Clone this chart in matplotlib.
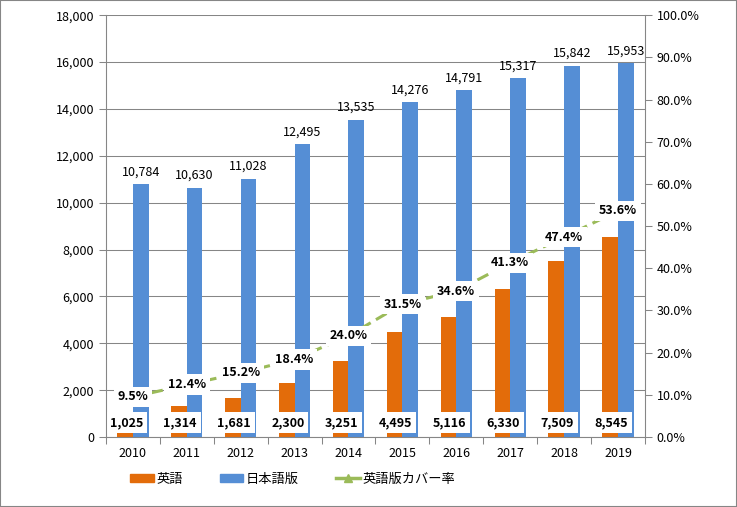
import numpy as np
import matplotlib
matplotlib.use("Agg")
import matplotlib.pyplot as plt
from matplotlib.ticker import FuncFormatter, FixedLocator
from matplotlib.lines import Line2D
from matplotlib.patches import Patch

plt.rcParams['font.family'] = ['Noto Sans CJK JP', 'DejaVu Sans']

years = ["2010", "2011", "2012", "2013", "2014", "2015", "2016", "2017", "2018", "2019"]
eigo = [1025, 1314, 1681, 2300, 3251, 4495, 5116, 6330, 7509, 8545]
nihongo = [10784, 10630, 11028, 12495, 13535, 14276, 14791, 15317, 15842, 15953]
cover = [9.5, 12.4, 15.2, 18.4, 24.0, 31.5, 34.6, 41.3, 47.4, 53.6]

c_or = "#E36C0A"
c_bl = "#558ED5"
c_gr = "#9BBB59"
c_ax = "#868686"

fig = plt.figure(figsize=(7.37, 5.07), dpi=100)
fig.patches.append(plt.Rectangle((0, 0), 1, 1, transform=fig.transFigure,
                                 fill=False, edgecolor=c_ax, linewidth=1.5))
ax = fig.add_axes([0.1438, 0.138, 0.875 - 0.1438, 0.832])
ax2 = ax.twinx()

x = np.arange(len(years))
w = 0.29
ax.bar(x - w / 2, eigo, w, color=c_or, zorder=2)
ax.bar(x + w / 2, nihongo, w, color=c_bl, zorder=2)

ax.set_xlim(-0.5, 9.5)
ax.set_ylim(0, 18000)
ax.set_yticks(np.arange(0, 18001, 2000))
ax.yaxis.set_major_formatter(FuncFormatter(lambda v, p: f"{int(v):,}"))
ax.grid(axis="y", color=c_ax, linewidth=0.75, zorder=0)
ax.set_axisbelow(True)

ax.xaxis.set_major_locator(FixedLocator(np.arange(-0.5, 10, 1)))
ax.xaxis.set_major_formatter(FuncFormatter(lambda v, p: ""))
ax.xaxis.set_minor_locator(FixedLocator(x))
ax.set_xticklabels(years, minor=True)
ax.tick_params(axis="x", which="major", length=5, color=c_ax, width=0.75)
ax.tick_params(axis="x", which="minor", length=0, pad=7, labelsize=9)
ax.tick_params(axis="y", length=5, color=c_ax, width=0.75, labelsize=9)

for a in (ax, ax2):
    a.spines["top"].set_visible(False)
    for s in ("left", "right", "bottom"):
        a.spines[s].set_color(c_ax)
        a.spines[s].set_linewidth(0.75)

ax2.set_ylim(0, 1)
ax2.set_yticks(np.arange(0, 1.01, 0.1))
ax2.yaxis.set_major_formatter(FuncFormatter(lambda v, p: f"{v * 100:.1f}%"))
ax2.tick_params(axis="y", length=5, color=c_ax, width=0.75, labelsize=9)

cov = np.array(cover) / 100
ax2.plot(x, cov, color=c_gr, linestyle=(0, (4, 2)), linewidth=2.2,
         marker="^", markersize=6, zorder=3)

box = dict(boxstyle="square,pad=0.3", facecolor="white", edgecolor="none")
for i in range(len(years)):
    ax.text(x[i] + w / 2, nihongo[i] + 250, f"{nihongo[i]:,}", ha="center",
            va="bottom", fontsize=9, zorder=5)
    ax.text(x[i] - w / 2 + 0.02, 620, f"{eigo[i]:,}", ha="center", va="center",
            fontsize=9, fontweight="bold", bbox=box, zorder=5)
    ax2.text(x[i], cov[i], f"{cover[i]:.1f}%", ha="center", va="center",
             fontsize=9, fontweight="bold", bbox=box, zorder=6)

handles = [Patch(color=c_or), Patch(color=c_bl),
           Line2D([0], [0], color=c_gr, linewidth=2.5, marker="^", markersize=6)]
fig.legend(handles, ["英語", "日本語版", "英語版カバー率"], loc="center left",
           bbox_to_anchor=(0.16, 0.055), ncol=3, frameon=False, fontsize=9.5,
           handlelength=1.8, handleheight=0.5, columnspacing=2.8, handletextpad=0.2)

fig.savefig("out.png", dpi=100)
